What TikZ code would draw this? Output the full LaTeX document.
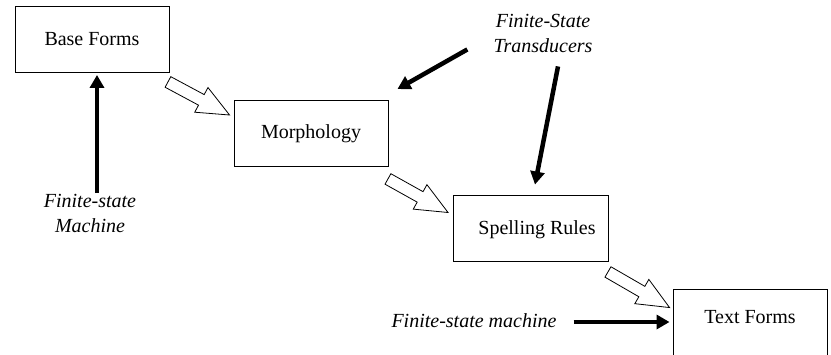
\documentclass[tikz,border=0pt]{standalone}
\usepackage{fontspec}
\setmainfont{Liberation Serif}
\usetikzlibrary{calc,arrows.meta}

\tikzset{
  box/.style={draw, line width=0.9pt, minimum width=154pt, minimum height=66pt,
              inner sep=0pt, font=\fontsize{20}{24}\selectfont},
  lbl/.style={font=\itshape\fontsize{20}{25}\selectfont, align=center, inner sep=0pt},
  blk/.style={line width=4.5pt, -{Triangle[length=13pt,width=14pt]}},
  harrow/.style={draw, fill=white, line width=0.8pt, line join=miter}
}

% hollow block arrow from #1 to #2
\newcommand{\hollowarrow}[2]{%
  \coordinate (#1-neck) at ($(#2)!32pt!(#1)$);
  \draw[harrow] ($(#1)!6pt!90:(#2)$)
    -- ($(#1-neck)!6pt!90:(#2)$)
    -- ($(#1-neck)!14pt!90:(#2)$)
    -- (#2)
    -- ($(#1-neck)!14pt!-90:(#2)$)
    -- ($(#1-neck)!6pt!-90:(#2)$)
    -- ($(#1)!6pt!-90:(#2)$) -- cycle;}

\begin{document}
\begin{tikzpicture}[x=1pt,y=-1pt]
\useasboundingbox (0,0) rectangle (831,354);
\clip (0,0) rectangle (831,354);

% processing stages
\node[box] (base)  at (92,39.5)  {Base Forms};
\node[box] (morph) at (311,133.5) {Morphology};
\node[box, minimum width=155pt] (spell) at (530.5,228) {};
\node[font=\fontsize{20}{24}\selectfont] (spellt) at (537,230) {Spelling Rules};
\node[box, minimum height=80pt] (text) at (750,329) {};
\node[font=\fontsize{20}{24}\selectfont] (textt) at (750,317) {Text Forms};

% annotations
\node[lbl] (fsm1) at (90,213.5) {Finite-state\\Machine};
\node[lbl] (fst)  at (543,33)  {Finite-State\\Transducers};
\node[lbl] (fsm2) at (474,321) {Finite-state machine};

% flow between stages
\coordinate (a1s) at ($(base.south east)+(-1.5,9)$);
\coordinate (a1e) at ($(morph.west)+(-4,-18.5)$);
\coordinate (a2s) at ($(morph.south east)+(-0.5,12)$);
\coordinate (a2e) at ($(spell.west)+(-4.5,-15.5)$);
\coordinate (a3s) at ($(spell.south east)+(-0.5,10.5)$);
\coordinate (a3e) at ($(text.north west)+(-3,19)$);
\hollowarrow{a1s}{a1e}
\hollowarrow{a2s}{a2e}
\hollowarrow{a3s}{a3e}

% machines acting on stages
\draw[blk] ($(fsm1.north)+(7,-1)$) -- ($(base.south)+(5,2)$);
\draw[blk] ($(fst.south west)+(-26,-3)$) -- ($(morph.north east)+(9,-11)$);
\draw[blk] ($(fst.south)+(15,14)$) -- ($(spell.north)+(4.5,-10)$);
\draw[blk] ($(fsm2.east)+(17,1)$) -- ($(text.west)+(-3,-7)$);
\end{tikzpicture}
\end{document}
